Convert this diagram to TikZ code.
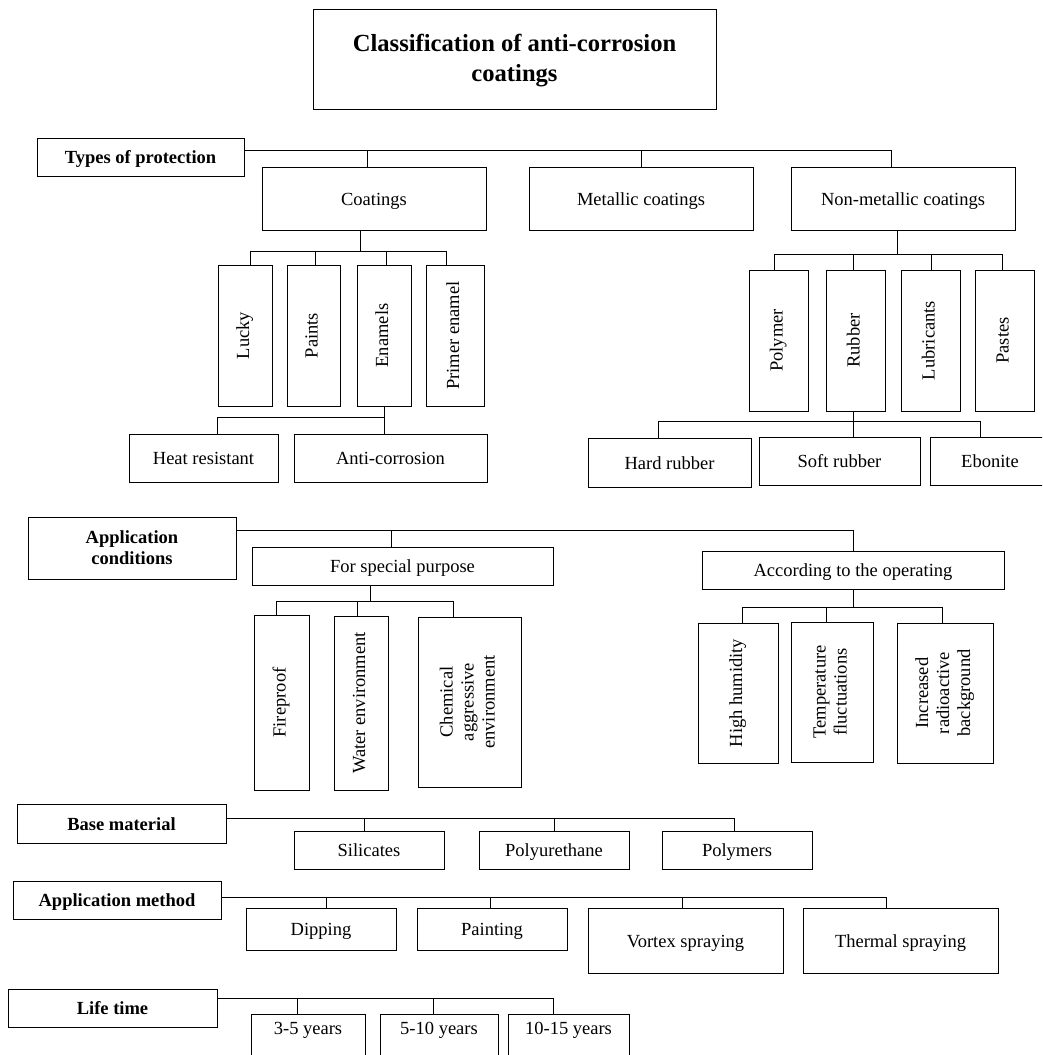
\documentclass[tikz,border=0pt]{standalone}
\usepackage{fontspec}
\setmainfont{Liberation Serif}
\usepackage{graphicx}
\usetikzlibrary{calc}
\newcommand{\rottext}[1]{\rotatebox{90}{\begin{tabular}{@{}c@{}}#1\end{tabular}}}
\newcommand{\bx}[7][]{\node[box,#1,minimum width={(#5-#3)*1pt},minimum height={(#6-#4)*1pt}] (#2) at ({(#3+#5)/2},{-(#4+#6)/2}) {#7};}
\tikzset{
  box/.style={draw=black, line width=1pt, inner sep=0pt, align=center,
    font=\fontsize{18.5pt}{21pt}\selectfont, text height=14.5pt, text depth=1.5pt},
  natural/.style={text height={}, text depth={}},
  head/.style={font=\bfseries\fontsize{18.5pt}{21pt}\selectfont},
  ttl/.style={natural, font=\bfseries\fontsize{24.6pt}{30pt}\selectfont},
  conn/.style={draw=black, line width=1pt},
}
\begin{document}
\begin{tikzpicture}[x=1pt,y=1pt]
\useasboundingbox (0,0) rectangle (1042,-1055);
\clip (0,0) rectangle (1042,-1055);
\fill[white] (0,0) rectangle (1042,-1055);

% title
\bx[ttl]{title}{313}{9}{716}{109}{\rule{0pt}{20pt}Classification of anti-corrosion\\coatings}

% types of protection
\bx[head]{tp}{37}{138}{244}{176}{Types of protection}
\bx{coat}{262}{167}{486}{230}{Coatings}
\bx{met}{529}{167}{753}{230}{Metallic coatings}
\bx{nonmet}{791}{167}{1015}{230}{Non-metallic coatings}

\bx[natural]{lucky}{218}{265}{272}{406}{\rottext{Lucky}}
\bx[natural]{paints}{287}{265}{340}{406}{\rottext{Paints}}
\bx[natural]{enam}{357}{265}{411}{406}{\rottext{Enamels}}
\bx[natural]{primer}{426}{265}{484}{406}{\rottext{Primer enamel}}

\bx{heat}{129}{434}{278}{482}{Heat resistant}
\bx{anti}{294}{434}{487}{482}{Anti-corrosion}

\bx[natural]{polym}{749}{270}{808}{411}{\rottext{Polymer}}
\bx[natural]{rub}{826}{270}{885}{411}{\rottext{Rubber}}
\bx[natural]{lubr}{901}{270}{960}{411}{\rottext{Lubricants}}
\bx[natural]{pastes}{975}{270}{1034}{411}{\rottext{Pastes}}

\bx{hard}{588}{438}{751}{487}{Hard rubber}
\bx{soft}{759}{437}{920}{485}{Soft rubber}
\bx{ebon}{930}{437}{1050}{485}{Ebonite}

% application conditions
\bx[head,natural]{ac}{28}{517}{236}{579}{Application\\conditions}
\bx{spec}{252}{547}{553}{585}{For special purpose}
\bx{accord}{702}{551}{1004}{589}{According to the operating}

\bx[natural]{fire}{254}{615}{309}{790}{\rottext{Fireproof}}
\bx[natural]{water}{334}{616}{388}{790}{\rottext{Water environment}}
\bx[natural]{chem}{418}{617}{521}{787}{\rottext{Chemical\\aggressive\\environment}}

\bx[natural]{hum}{698}{623}{778}{763}{\rottext{High humidity}}
\bx[natural]{temp}{791}{622}{873}{762}{\rottext{Temperature\\fluctuations}}
\bx[natural]{incr}{897}{623}{993}{763}{\rottext{Increased\\radioactive\\background}}

% base material
\bx[head]{bm}{17}{804}{226}{843}{Base material}
\bx{sil}{294}{831}{444}{869}{Silicates}
\bx{pu}{479}{831}{629}{869}{Polyurethane}
\bx{polys}{662}{831}{812}{869}{Polymers}

% application method
\bx[head]{am}{13}{881}{221}{919}{Application method}
\bx{dip}{246}{908}{396}{950}{Dipping}
\bx{paint}{417}{908}{567}{950}{Painting}
\bx{vort}{588}{908}{783}{973}{Vortex spraying}
\bx{therm}{803}{908}{998}{973}{Thermal spraying}

% life time
\bx[head]{lt}{8}{989}{217}{1027}{Life time}
\bx[text height=13pt,text depth=18pt]{ya}{251}{1014}{365}{1060}{3-5 years}
\bx[text height=13pt,text depth=18pt]{yb}{380}{1014}{498}{1060}{5-10 years}
\bx[text height=13pt,text depth=18pt]{yc}{508}{1014}{629}{1060}{10-15 years}

% ---------- connectors ----------
% types of protection
\coordinate (tpbus) at ([yshift=7pt]tp.east);
\draw[conn] (tpbus) -| ([xshift=-12pt]nonmet.north);
\draw[conn] ([xshift=-7pt]coat.north) -- ([xshift=-7pt]coat.north |- tpbus);
\draw[conn] (met.north) -- (met.north |- tpbus);

% coatings
\coordinate (cb) at (0,-251);
\draw[conn] ([xshift=-14pt]coat.south) -- ([xshift=-14pt]coat.south |- cb);
\draw[conn] ([xshift=5pt]lucky.north) |- ([xshift=-9pt]primer.north |- cb) -- ([xshift=-9pt]primer.north);
\draw[conn] ([xshift=2pt]paints.north) -- ([xshift=2pt]paints.north |- cb);
\draw[conn] ([xshift=2pt]enam.north) -- ([xshift=2pt]enam.north |- cb);

% enamels
\coordinate (eb) at (0,-417);
\draw[conn] (enam.south) -- (enam.south |- anti.north);
\draw[conn] (enam.south |- eb) -| ([xshift=14pt]heat.north);

% non-metallic
\coordinate (nb) at (0,-254);
\draw[conn] ([xshift=-6pt]nonmet.south) -- ([xshift=-6pt]nonmet.south |- nb);
\draw[conn] ([xshift=-4pt]polym.north) |- ([xshift=-2pt]pastes.north |- nb) -- ([xshift=-2pt]pastes.north);
\draw[conn] ([xshift=-2pt]rub.north) -- ([xshift=-2pt]rub.north |- nb);
\draw[conn] ([xshift=1pt]lubr.north) -- ([xshift=1pt]lubr.north |- nb);

% rubber
\coordinate (rb) at (0,-421);
\draw[conn] ([xshift=-2pt]rub.south) -- ([xshift=-2pt]rub.south |- soft.north);
\draw[conn] ([xshift=-11pt]hard.north) |- ([xshift=-10pt]ebon.north |- rb) -- ([xshift=-10pt]ebon.north);

% application conditions
\coordinate (acbus) at ([yshift=18pt]ac.east);
\draw[conn] (acbus) -| (accord.north);
\draw[conn] ([xshift=-11pt]spec.north) -- ([xshift=-11pt]spec.north |- acbus);

% special purpose
\coordinate (sb) at (0,-601);
\draw[conn] ([xshift=-32pt]spec.south) -- ([xshift=-32pt]spec.south |- sb);
\draw[conn] ([xshift=-5pt]fire.north) |- ([xshift=-16pt]chem.north |- sb) -- ([xshift=-16pt]chem.north);
\draw[conn] ([xshift=-4pt]water.north) -- ([xshift=-4pt]water.north |- sb);

% according to the operating
\coordinate (ab) at (0,-607);
\draw[conn] (accord.south) -- (accord.south |- ab);
\draw[conn] ([xshift=4pt]hum.north) |- ([xshift=-3pt]incr.north |- ab) -- ([xshift=-3pt]incr.north);
\draw[conn] ([xshift=-6pt]temp.north) -- ([xshift=-6pt]temp.north |- ab);

% base material
\coordinate (bmbus) at ([yshift=5.5pt]bm.east);
\draw[conn] (bmbus) -| ([xshift=-3pt]polys.north);
\draw[conn] ([xshift=-5pt]sil.north) -- ([xshift=-5pt]sil.north |- bmbus);
\draw[conn] (pu.north) -- (pu.north |- bmbus);

% application method
\coordinate (ambus) at ([yshift=3pt]am.east);
\draw[conn] (ambus) -| ([xshift=-14pt]therm.north);
\draw[conn] ([xshift=5pt]dip.north) -- ([xshift=5pt]dip.north |- ambus);
\draw[conn] ([xshift=-2pt]paint.north) -- ([xshift=-2pt]paint.north |- ambus);
\draw[conn] ([xshift=-3pt]vort.north) -- ([xshift=-3pt]vort.north |- ambus);

% life time
\coordinate (ltbus) at ([yshift=10pt]lt.east);
\draw[conn] (ltbus) -| ([xshift=-15pt]yc.north);
\draw[conn] ([xshift=-11pt]ya.north) -- ([xshift=-11pt]ya.north |- ltbus);
\draw[conn] ([xshift=-6pt]yb.north) -- ([xshift=-6pt]yb.north |- ltbus);
\end{tikzpicture}
\end{document}
